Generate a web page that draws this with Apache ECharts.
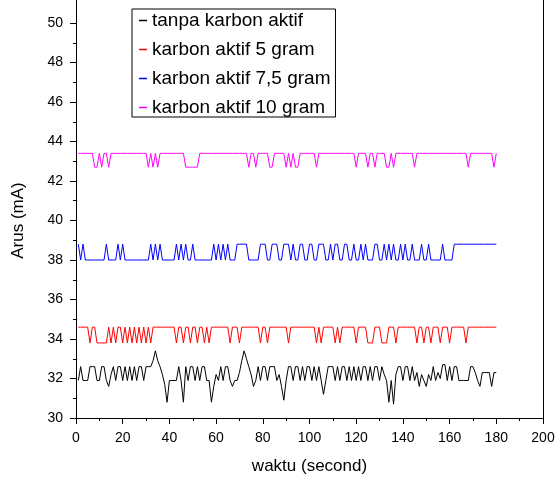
<!DOCTYPE html>
<html>
<head>
<meta charset="utf-8">
<script src="https://cdn.jsdelivr.net/npm/echarts@6/dist/echarts.min.js"></script>
<style>
  html, body { margin: 0; padding: 0; background: #fff; }
  #chartmain { width: 556px; height: 479px; }
</style>
</head>
<body>
<div id="chartmain"></div>
<script>
// data, one sample per second, t = 1..180
var seriesNames = ['tanpa karbon aktif', 'karbon aktif 5 gram', 'karbon aktif 7,5 gram', 'karbon aktif 10 gram'];
var xTicks = [0, 20, 40, 60, 80, 100, 120, 140, 160, 180, 200];
var yTicks = [30, 32, 34, 36, 38, 40, 42, 44, 46, 48, 50];

var tanpa = [
    31.9,32.6,31.9,31.9,31.9,32.6,32.6,32.6,31.9,31.9,
    32.6,32.6,31.9,31.6,32.2,32.6,31.9,32.6,32.6,31.9,
    32.6,31.9,32.6,31.9,32.6,31.9,32.6,32.6,31.9,32.6,
    32.6,32.6,32.9,33.4,32.9,32.6,32.2,31.7,30.8,31.9,
    31.9,31.9,31.9,32.6,31.9,30.8,32.6,31.9,32.6,32.6,
    31.9,32.6,31.9,32.6,32.6,31.9,31.9,30.8,31.6,32.2,
    31.9,32.6,31.9,32.6,32.6,31.9,31.6,31.9,31.9,32.3,
    32.9,33.4,33.0,32.6,32.2,31.6,31.9,32.6,31.9,32.6,
    32.6,31.9,32.6,32.6,32.6,31.9,32.2,31.6,30.9,31.9,
    32.6,32.6,31.9,32.6,32.6,31.9,32.6,31.9,32.6,32.6,
    31.9,32.6,31.9,32.6,31.9,31.2,31.9,32.6,32.6,32.6,
    31.9,32.6,31.9,32.6,32.6,31.9,32.6,31.9,32.6,31.9,
    32.6,31.9,32.6,32.6,31.9,32.6,31.9,32.6,32.6,31.9,
    32.6,32.2,31.9,30.8,31.9,30.7,32.2,32.6,32.6,31.9,
    32.6,32.6,31.9,32.6,31.9,32.3,31.6,32.2,31.9,31.6,
    32.2,31.9,32.6,31.9,32.3,32.0,32.7,32.7,31.9,32.6,
    31.9,32.6,32.6,31.9,31.9,31.9,31.9,31.9,32.6,32.6,
    32.3,31.9,31.6,32.3,32.3,32.3,32.3,31.6,32.3,32.3
];

var karbon5 = [
    34.6,34.6,34.6,34.6,34.6,33.8,34.6,34.6,33.8,33.8,
    33.8,33.8,33.8,34.6,33.8,34.6,33.8,34.6,34.6,33.8,
    34.6,33.8,34.6,33.8,34.6,33.8,34.6,33.8,34.6,33.8,
    34.6,33.8,34.6,34.6,34.6,34.6,34.6,34.6,34.6,34.6,
    34.6,34.6,33.8,34.6,34.6,33.8,34.6,34.6,33.8,34.6,
    34.6,33.8,34.6,34.6,33.8,34.6,33.8,34.6,34.6,34.6,
    34.6,34.6,34.6,34.6,34.6,33.8,34.6,34.6,34.6,33.8,
    34.6,34.6,34.6,34.6,34.6,34.6,34.6,34.6,33.8,34.6,
    34.6,33.8,34.6,34.6,34.6,34.6,34.6,34.6,34.6,34.6,
    33.8,34.6,34.6,34.6,34.6,34.6,34.6,34.6,34.6,34.6,
    34.6,34.6,33.8,34.6,33.8,34.6,34.6,34.6,34.6,34.6,
    33.8,34.6,33.8,34.6,34.6,34.6,34.6,34.6,34.6,33.8,
    34.6,34.6,34.6,34.6,33.8,33.8,33.8,34.6,34.6,34.6,
    33.8,33.8,33.8,34.6,34.6,34.6,33.8,34.6,34.6,34.6,
    34.6,34.6,34.6,34.6,34.6,33.8,34.6,34.6,33.8,34.6,
    34.6,33.8,34.6,34.6,34.6,33.8,34.6,34.6,34.6,33.8,
    34.6,34.6,34.6,34.6,34.6,34.6,33.8,34.6,34.6,34.6,
    34.6,34.6,34.6,34.6,34.6,34.6,34.6,34.6,34.6,34.6
];

var karbon75 = [
    38.8,38.0,38.8,38.0,38.0,38.0,38.0,38.0,38.0,38.0,
    38.0,38.0,38.8,38.0,38.0,38.0,38.0,38.8,38.0,38.8,
    38.0,38.0,38.0,38.0,38.0,38.0,38.0,38.0,38.0,38.0,
    38.0,38.8,38.0,38.8,38.0,38.8,38.0,38.0,38.0,38.0,
    38.0,38.0,38.8,38.0,38.8,38.0,38.8,38.0,38.0,38.8,
    38.0,38.0,38.0,38.0,38.0,38.0,38.0,38.0,38.8,38.0,
    38.8,38.0,38.8,38.0,38.8,38.0,38.0,38.0,38.8,38.8,
    38.8,38.8,38.8,38.0,38.0,38.0,38.0,38.0,38.8,38.8,
    38.8,38.0,38.0,38.8,38.8,38.8,38.0,38.0,38.8,38.8,
    38.8,38.0,38.8,38.0,38.0,38.8,38.8,38.0,38.0,38.8,
    38.8,38.0,38.0,38.8,38.8,38.8,38.0,38.0,38.8,38.0,
    38.8,38.8,38.0,38.0,38.8,38.8,38.0,38.0,38.8,38.0,
    38.0,38.8,38.0,38.8,38.0,38.0,38.0,38.8,38.8,38.0,
    38.0,38.8,38.0,38.8,38.0,38.8,38.0,38.0,38.8,38.0,
    38.8,38.0,38.0,38.8,38.0,38.0,38.0,38.8,38.0,38.0,
    38.8,38.0,38.0,38.0,38.0,38.0,38.8,38.0,38.0,38.0,
    38.0,38.8,38.8,38.8,38.8,38.8,38.8,38.8,38.8,38.8,
    38.8,38.8,38.8,38.8,38.8,38.8,38.8,38.8,38.8,38.8
];

var karbon10 = [
    43.4,43.4,43.4,43.4,43.4,43.4,43.4,42.7,42.7,43.4,
    42.7,43.4,43.4,42.7,43.4,43.4,43.4,43.4,43.4,43.4,
    43.4,43.4,43.4,43.4,43.4,43.4,43.4,43.4,43.4,43.4,
    42.7,43.4,42.7,43.4,42.7,43.4,43.4,43.4,43.4,43.4,
    43.4,43.4,43.4,43.4,43.4,43.4,42.7,42.7,42.7,42.7,
    42.7,42.7,43.4,43.4,43.4,43.4,43.4,43.4,43.4,43.4,
    43.4,43.4,43.4,43.4,43.4,43.4,43.4,43.4,43.4,43.4,
    43.4,43.4,43.4,42.7,43.4,43.4,42.7,43.4,43.4,43.4,
    43.4,43.4,42.7,42.7,43.4,43.4,43.4,43.4,43.4,42.7,
    43.4,42.7,43.4,42.7,42.7,43.4,43.4,43.4,43.4,43.4,
    43.4,43.4,42.7,43.4,43.4,43.4,43.4,43.4,43.4,43.4,
    43.4,43.4,43.4,43.4,43.4,43.4,43.4,43.4,43.4,42.7,
    43.4,43.4,43.4,43.4,42.7,43.4,43.4,42.7,43.4,43.4,
    43.4,43.4,42.7,42.7,43.4,42.7,43.4,43.4,43.4,43.4,
    43.4,43.4,43.4,43.4,42.7,43.4,43.4,43.4,43.4,43.4,
    43.4,43.4,43.4,43.4,43.4,43.4,43.4,43.4,43.4,43.4,
    43.4,43.4,43.4,43.4,43.4,43.4,43.4,42.7,43.4,43.4,
    43.4,43.4,43.4,43.4,43.4,43.4,43.4,43.4,42.7,43.4
];

var warna = ['#000000', '#FF0000', '#0000FF', '#FF00FF'];

// sampling times (seconds)
var waktu = tanpa.map(function (v, i) { return i + 1; });

function pairs(arr) {
    return arr.map(function (v, i) { return [waktu[i], v]; });
}

function garis(idx, arr) {
    return {
        name: seriesNames[idx],
        type: 'line',
        symbol: 'none',
        color: warna[idx],
        itemStyle: {color: warna[idx]},
        lineStyle: {width: 1, color: warna[idx]},
        data: pairs(arr)
    };
}

var myChart = echarts.init(document.getElementById('chartmain'));

var option = {
    backgroundColor: '#FFFFFF',
    animation: false,
    grid: {left: 76, right: 13, top: 23, bottom: 61, outerBoundsMode: 'none', containLabel: false},
    // the frame's side lines run on above the 50 tick, up to the picture's edge
    graphic: [
        {type: 'line', shape: {x1: 76.5, y1: 0, x2: 76.5, y2: 23}, style: {stroke: '#000', lineWidth: 1}},
        {type: 'line', shape: {x1: 543.5, y1: 0, x2: 543.5, y2: 23}, style: {stroke: '#000', lineWidth: 1}}
    ],
    legend: {
        orient: 'vertical',
        left: 132,
        top: 9,
        data: seriesNames,
        icon: 'rect',
        backgroundColor: '#FFFFFF',
        borderColor: '#000',
        borderWidth: 1,
        borderRadius: 0,
        padding: [2, 5, 0, 7],
        itemGap: 10,
        itemWidth: 8,
        itemHeight: 1.5,
        itemStyle: {borderWidth: 0},
        textStyle: {color: '#000', fontSize: 19, fontFamily: 'Liberation Sans, Arial', lineHeight: 18}
    },
    xAxis: [{
        type: 'value',
        min: 0,
        max: 200,
        interval: 20,
        name: 'waktu (second)',
        nameLocation: 'middle',
        nameGap: 40,
        nameTextStyle: {color: '#000', fontSize: 17, fontFamily: 'Liberation Sans, Arial'},
        axisLine: {show: true, lineStyle: {color: '#000', width: 1}},
        axisTick: {show: true, length: 6, lineStyle: {color: '#000'}},
        minorTick: {show: true, splitNumber: 2, length: 3, lineStyle: {color: '#000'}},
        splitLine: {show: false},
        axisLabel: {
            color: '#000', fontSize: 14, fontFamily: 'Liberation Sans, Arial', margin: 13,
            formatter: function (v) { return xTicks.indexOf(v) >= 0 ? String(v) : ''; }
        }
    }],
    yAxis: [{
        type: 'value',
        min: 30,
        max: 50,
        interval: 2,
        name: 'Arus (mA)',
        nameLocation: 'middle',
        nameGap: 49,
        nameTextStyle: {color: '#000', fontSize: 17, fontFamily: 'Liberation Sans, Arial'},
        axisLine: {show: true, lineStyle: {color: '#000', width: 1}},
        axisTick: {show: true, length: 6, lineStyle: {color: '#000'}},
        minorTick: {show: true, splitNumber: 2, length: 3, lineStyle: {color: '#000'}},
        splitLine: {show: false},
        axisLabel: {
            color: '#000', fontSize: 14, fontFamily: 'Liberation Sans, Arial', margin: 13,
            formatter: function (v) { return yTicks.indexOf(v) >= 0 ? String(v) : ''; }
        }
    }, {
        type: 'value',
        position: 'right',
        min: 30,
        max: 50,
        axisLine: {show: true, lineStyle: {color: '#000', width: 1}},
        axisTick: {show: false},
        axisLabel: {show: false},
        splitLine: {show: false}
    }],
    series: [
        garis(0, tanpa),
        garis(1, karbon5),
        garis(2, karbon75),
        garis(3, karbon10)
    ]
};

myChart.setOption(option);
</script>
</body>
</html>
